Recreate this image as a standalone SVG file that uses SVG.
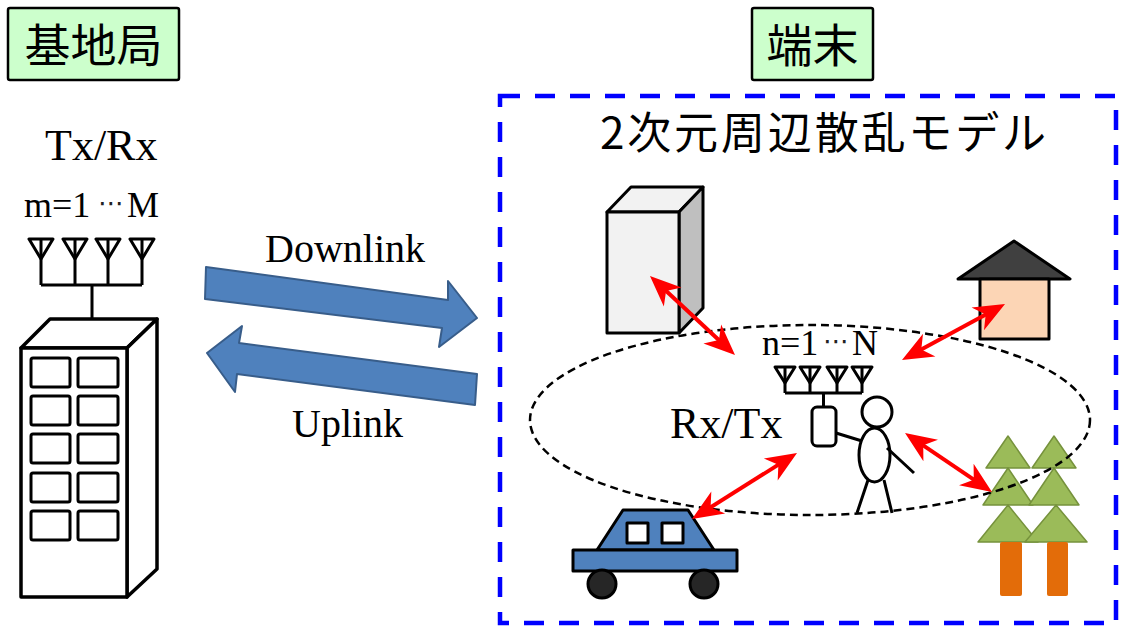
<svg xmlns="http://www.w3.org/2000/svg" width="1121" height="626" viewBox="0 0 1121 626">
  <style>
    .lbl { fill: #ccffcc; stroke: #000; stroke-width: 2.5; }
    .jp { font-family: "Noto Sans CJK JP", "Noto Sans CJK SC", sans-serif; fill: #000; }
    .serif { font-family: "Liberation Serif", "Times New Roman", serif; fill: #000; }
    .dots { font-family: "DejaVu Sans", sans-serif; font-size: 26px; fill: #222; }
    .ln { fill: none; stroke: #000; stroke-width: 3; stroke-linejoin: round; }
    .win { fill: #fff; stroke: #000; stroke-width: 3; }
    .wall { fill: #fff; stroke: #000; stroke-width: 3.5; stroke-linejoin: round; }
    .big { fill: #4f81bd; stroke: #385d8a; stroke-width: 2; stroke-linejoin: round; }
    .red { fill: none; stroke: #ff0000; stroke-width: 4; marker-start: url(#rh); marker-end: url(#rh); }
    .leaf { fill: #9bbb59; stroke: #76923c; stroke-width: 1.5; stroke-linejoin: round; }
    .trunk { fill: #e36c09; }
    .obj { stroke: #000; stroke-width: 3; stroke-linejoin: round; }
  </style>
  <defs>
    <marker id="rh" markerUnits="userSpaceOnUse" viewBox="-25 -25 50 50" markerWidth="50" markerHeight="50" refX="0" refY="0" orient="auto-start-reverse" overflow="visible">
      <path d="M13,0 L-18,-13 L-9,0 L-18,13 Z" fill="#ff0000"/>
    </marker>
  </defs>

  <rect width="1121" height="626" fill="#fff"/>

  <!-- section labels -->
  <g id="label-bs">
    <rect class="lbl" x="8" y="8" width="171" height="72" rx="2"/>
    <text class="jp" x="93.5" y="62" font-size="46" text-anchor="middle">基地局</text>
  </g>
  <g id="label-ue">
    <rect class="lbl" x="752" y="8" width="121" height="72" rx="2"/>
    <text class="jp" x="812.5" y="62" font-size="46" text-anchor="middle">端末</text>
  </g>

  <!-- base station -->
  <g id="base-station">
    <text class="serif" x="45" y="160" font-size="44">Tx/Rx</text>
    <text class="serif" y="217" font-size="36"><tspan x="24">m=1</tspan><tspan class="dots" x="98" dy="-5">⋯</tspan><tspan x="127" dy="5">M</tspan></text>
    <g class="ln">
      <polygon points="29,239 53,239 41,259"/>
      <polygon points="63,239 87,239 75,259"/>
      <polygon points="96,239 120,239 108,259"/>
      <polygon points="130,239 154,239 142,259"/>
      <path d="M41,239 V285 M75,239 V285 M108,239 V285 M142,239 V285 M41,285 H142 M92,285 V335"/>
    </g>
    <polygon class="wall" points="21,348 50,319 157,319 127,348"/>
    <polygon class="wall" points="127,348 157,319 157,569 127,597"/>
    <rect class="wall" x="21" y="348" width="106" height="249"/>
    <g class="win">
      <rect x="31" y="358" width="39" height="29" rx="2"/>
      <rect x="78" y="358" width="40" height="29" rx="2"/>
      <rect x="31" y="396" width="39" height="29" rx="2"/>
      <rect x="78" y="396" width="40" height="29" rx="2"/>
      <rect x="31" y="434" width="39" height="29" rx="2"/>
      <rect x="78" y="434" width="40" height="29" rx="2"/>
      <rect x="31" y="473" width="39" height="29" rx="2"/>
      <rect x="78" y="473" width="40" height="29" rx="2"/>
      <rect x="31" y="511" width="39" height="29" rx="2"/>
      <rect x="78" y="511" width="40" height="29" rx="2"/>
    </g>
  </g>

  <!-- downlink / uplink -->
  <g id="links">
    <polygon class="big" points="206,267 448,300 448,281 477,318 439,347 442,328 205,299"/>
    <text class="serif" x="265" y="262" font-size="40">Downlink</text>
    <polygon class="big" points="207,353 242,326 239,343 477,374 475,405 237,374 235,392"/>
    <text class="serif" x="292" y="437" font-size="40">Uplink</text>
  </g>

  <!-- terminal area -->
  <g id="scatter-area">
    <rect x="500" y="96" width="616" height="527" fill="none" stroke="#0000ff" stroke-width="4.5" stroke-dasharray="20 15"/>
    <text class="jp" x="600" y="149" font-size="44" textLength="446" lengthAdjust="spacing">2次元周辺散乱モデル</text>
  </g>

  <g id="trees">
    <g class="leaf">
      <polygon points="1008,436 1030,468 986,468"/>
      <polygon points="1008,468 1033,505 983,505"/>
      <polygon points="1008,505 1038,542 978,542"/>
      <polygon points="1054,436 1076,468 1032,468"/>
      <polygon points="1054,468 1079,505 1029,505"/>
      <polygon points="1056,505 1087,542 1025,542"/>
    </g>
    <rect class="trunk" x="1000" y="542" width="22" height="54" rx="2"/>
    <rect class="trunk" x="1047" y="542" width="21" height="54" rx="2"/>
  </g>

  <ellipse id="scatter-ring" cx="810" cy="420" rx="280" ry="95" fill="none" stroke="#000" stroke-width="2.5" stroke-dasharray="8 5"/>

  <g id="building">
    <polygon class="obj" points="607,212 631,187 703,187 679,212" fill="#f2f2f2"/>
    <polygon class="obj" points="679,212 703,187 703,308 679,333" fill="#bfbfbf"/>
    <rect class="obj" x="607" y="212" width="72" height="121" fill="#f2f2f2"/>
  </g>

  <g id="house">
    <polygon class="obj" points="1014,241 1070,279 958,279" fill="#404040"/>
    <rect class="obj" x="980" y="279" width="69" height="60" fill="#fcd5b5"/>
  </g>

  <g id="car">
    <polygon class="obj" points="597,550 623,510 688,510 714,550" fill="#4f81bd" stroke-width="2.5"/>
    <rect class="obj" x="573" y="550" width="164" height="21" fill="#4f81bd" stroke-width="2.5"/>
    <rect class="obj" x="627" y="523" width="21" height="20" fill="#fff" stroke-width="2.5"/>
    <rect class="obj" x="662" y="523" width="21" height="20" fill="#fff" stroke-width="2.5"/>
    <circle class="obj" cx="602" cy="584" r="14" fill="#262626" stroke-width="2.5"/>
    <circle class="obj" cx="704" cy="584" r="14" fill="#262626" stroke-width="2.5"/>
  </g>

  <g id="terminal">
    <text class="serif" y="355" font-size="36"><tspan x="762">n=1</tspan><tspan class="dots" x="823" dy="-5">⋯</tspan><tspan x="852" dy="5">N</tspan></text>
    <text class="serif" x="670" y="438" font-size="44">Rx/Tx</text>
    <g class="ln">
      <polygon points="775,367 795,367 785,383"/>
      <polygon points="800,367 820,367 810,383"/>
      <polygon points="827,367 847,367 837,383"/>
      <polygon points="852,367 872,367 862,383"/>
      <path d="M785,367 V393 M810,367 V393 M837,367 V393 M862,367 V393 M785,393 H862 M823.5,393 V407"/>
      <rect x="812" y="407" width="24" height="39" rx="5"/>
    </g>
  </g>

  <g id="person" class="ln">
    <circle cx="877" cy="412" r="15"/>
    <ellipse cx="874.5" cy="455" rx="15.5" ry="27"/>
    <path d="M836,433 L862,441 M887,448 L914,473 M868,480 L857,513 M884,480 L892,513"/>
  </g>

  <!-- scattering paths -->
  <g id="connectors">
    <line class="red" x1="659.5" y1="284.8" x2="725.5" y2="346.2"/>
    <line class="red" x1="993.6" y1="310.2" x2="913.4" y2="353.8"/>
    <line class="red" x1="915.8" y1="440.3" x2="981.2" y2="484.7"/>
    <line class="red" x1="786.0" y1="459.9" x2="703.0" y2="512.1"/>
  </g>
</svg>
